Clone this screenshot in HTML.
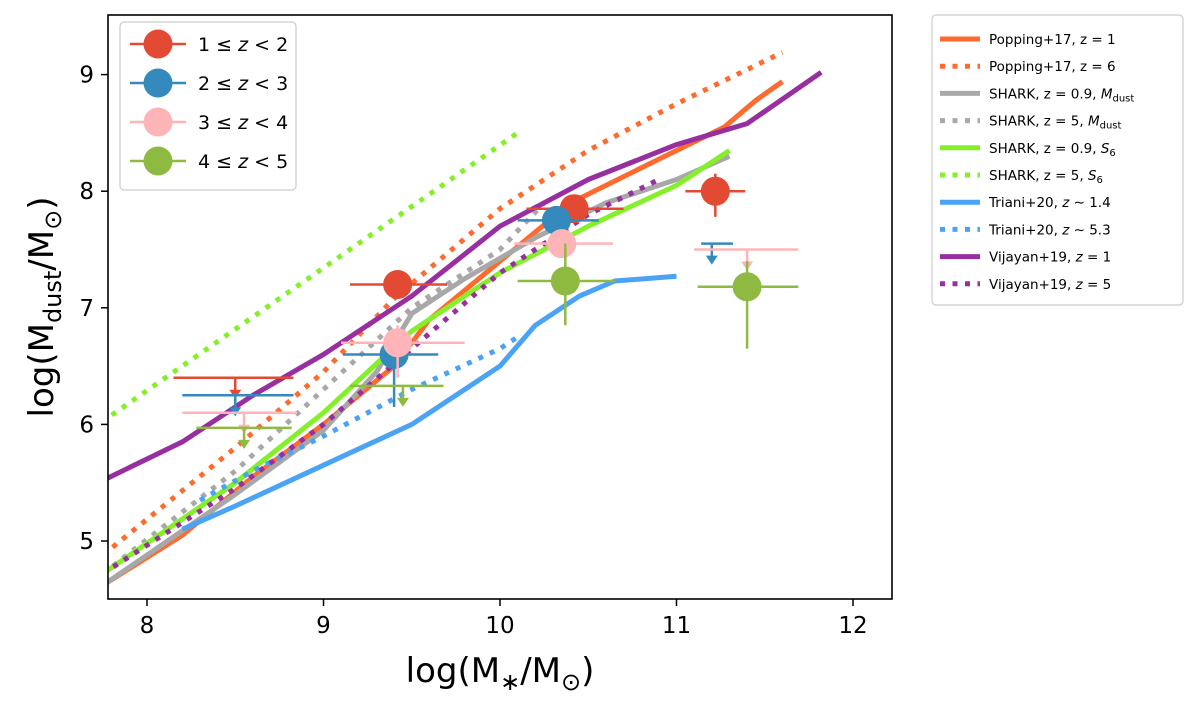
<!DOCTYPE html>
<html><head><meta charset="utf-8"><style>
body{margin:0;background:#fff;}
svg{display:block;font-family:"DejaVu Sans","Liberation Sans",sans-serif;}
</style></head><body>
<svg id="chart" width="1200" height="709" viewBox="0 0 1200 709">
<defs><clipPath id="clip"><rect x="108" y="15" width="784" height="584"/></clipPath></defs>
<g id="lines" clip-path="url(#clip)"></g>
<g id="points"></g>
<rect x="108" y="15" width="784" height="584" fill="none" stroke="#000" stroke-width="1.6"/>
<g id="axes"></g>
<text x="500" y="682" text-anchor="middle" font-size="34">log(M<tspan font-size="24" dy="8">∗</tspan><tspan dy="-8">/M</tspan><tspan font-size="24" dy="8">⊙</tspan><tspan dy="-8">)</tspan></text>
<text transform="translate(53,307) rotate(-90)" text-anchor="middle" font-size="34">log(M<tspan font-size="24" dy="8">dust</tspan><tspan dy="-8">/M</tspan><tspan font-size="24" dy="8">⊙</tspan><tspan dy="-8">)</tspan></text>
<g id="legend1"></g>
<g id="legend2"></g>
</svg>
<script>
const xTicks=[8,9,10,11,12];
const yTicks=[5,6,7,8,9];
const popping1X=[7.75,8.2,8.6,9.0,9.4,9.6,10.0,10.4,10.8,11.27,11.45,11.6];
const popping1Y=[4.62,5.05,5.55,6.0,6.5,6.9,7.4,7.9,8.2,8.55,8.78,8.94];
const popping6X=[7.75,8.5,9.0,9.4,10.0,10.5,11.0,11.6];
const popping6Y=[4.88,5.8,6.45,7.08,7.85,8.35,8.75,9.19];
const shark09X=[7.75,8.5,9.0,9.3,9.5,9.8,10.2,10.6,11.0,11.3];
const shark09Y=[4.62,5.4,5.95,6.45,6.95,7.25,7.6,7.9,8.1,8.3];
const shark5X=[7.75,8.5,9.0,9.5,10.0,10.25];
const shark5Y=[4.72,5.6,6.3,7.0,7.5,7.9];
const s6z09X=[7.75,8.5,9.0,9.5,10.0,10.5,11.0,11.3];
const s6z09Y=[4.72,5.5,6.1,6.8,7.3,7.7,8.05,8.35];
const s6z5X=[7.8,10.1];
const s6z5Y=[6.08,8.5];
const triani14X=[8.2,8.5,9.0,9.5,10.0,10.2,10.45,10.65,11.0];
const triani14Y=[5.1,5.3,5.65,6.0,6.5,6.85,7.1,7.23,7.27];
const triani53X=[8.3,8.6,9.0,9.5,10.0,10.1];
const triani53Y=[5.35,5.6,5.9,6.3,6.65,6.75];
const vij1X=[7.75,8.2,8.6,9.0,9.5,10.0,10.5,11.0,11.4,11.82];
const vij1Y=[5.52,5.85,6.25,6.6,7.1,7.7,8.1,8.4,8.58,9.02];
const vij5X=[7.75,8.5,9.0,9.5,10.0,10.5,10.9];
const vij5Y=[4.72,5.45,6.0,6.65,7.3,7.8,8.1];

const redX=[9.42,10.42,11.22,8.5];
const redY=[7.2,7.85,8.0,6.4];
const redXlo=[9.15,10.15,11.05,8.15];
const redXhi=[9.7,10.7,11.39,8.83];
const redYlo=[7.2,7.85,7.78,6.4];
const redYhi=[7.2,7.85,8.15,6.4];
const redUL=[0,0,0,1];
const blueX=[9.4,10.32,8.5,11.2];
const blueY=[6.6,7.75,6.25,7.55];
const blueXlo=[9.11,10.1,8.2,11.14];
const blueXhi=[9.65,10.56,8.83,11.32];
const blueYlo=[6.15,7.75,6.25,7.55];
const blueYhi=[6.6,7.75,6.25,7.55];
const blueUL=[0,0,1,1];
const pinkX=[9.42,10.35,8.55,11.4];
const pinkY=[6.7,7.55,6.1,7.5];
const pinkXlo=[9.1,10.08,8.2,11.1];
const pinkXhi=[9.8,10.64,8.85,11.69];
const pinkYlo=[6.4,7.55,6.1,7.5];
const pinkYhi=[6.85,7.55,6.1,7.5];
const pinkUL=[0,0,1,1];
const greenX=[9.45,8.55,10.37,11.4];
const greenY=[6.33,5.97,7.23,7.18];
const greenXlo=[9.15,8.28,10.1,11.12];
const greenXhi=[9.68,8.82,10.65,11.69];
const greenYlo=[6.33,5.97,6.85,6.65];
const greenYhi=[6.33,5.97,7.55,7.4];
const greenUL=[1,1,0,0];

const NS='http://www.w3.org/2000/svg';
const sx=v=>147+(v-8)*176.5;
const sy=v=>541-(v-5)*116.6;
function mk(tag,attrs,parent){const e=document.createElementNS(NS,tag);for(const k in attrs)e.setAttribute(k,attrs[k]);parent.appendChild(e);return e;}

const axes=document.getElementById('axes');
xTicks.forEach(t=>{
 const l=mk('line',{x1:sx(t),x2:sx(t),y1:599,y2:606,stroke:'#000','stroke-width':1.5},axes);
 
 
 const tx=mk('text',{x:sx(t),y:633,'text-anchor':'middle','font-size':23},axes);tx.textContent=t;
 
 
});
yTicks.forEach(t=>{
 const l=mk('line',{x1:101,x2:108,y1:sy(t),y2:sy(t),stroke:'#000','stroke-width':1.5},axes);
 
 
 const tx=mk('text',{x:94,y:sy(t)+8,'text-anchor':'end','font-size':23},axes);tx.textContent=t;
 
 
});

const C={pop:'#ff6a2e',gray:'#a8a8a8',lime:'#84f02a',tri:'#4aa3f5',vij:'#982fa0'};
const series=[
 [popping1X,popping1Y,C.pop,0,'popping-z1-line'],
 [popping6X,popping6Y,C.pop,1,'popping-z6-line'],
 [shark09X,shark09Y,C.gray,0,'shark-z09-mdust-line'],
 [shark5X,shark5Y,C.gray,1,'shark-z5-mdust-line'],
 [s6z09X,s6z09Y,C.lime,0,'shark-z09-s6-line'],
 [s6z5X,s6z5Y,C.lime,1,'shark-z5-s6-line'],
 [triani14X,triani14Y,C.tri,0,'triani-z14-line'],
 [triani53X,triani53Y,C.tri,1,'triani-z53-line'],
 [vij1X,vij1Y,C.vij,0,'vijayan-z1-line'],
 [vij5X,vij5Y,C.vij,1,'vijayan-z5-line']];
const lg=document.getElementById('lines');
series.forEach(s=>{
 const d=s[0].map((x,i)=>(i?'L':'M')+sx(x).toFixed(1)+','+sy(s[1][i]).toFixed(1)).join('');
 const p=mk('path',{d:d,fill:'none',stroke:s[2],'stroke-width':5,'stroke-linejoin':'round'},lg);
 if(s[3])p.setAttribute('stroke-dasharray','5,7.5');
 
 
});

const pg=document.getElementById('points');
function drawSet(X,Y,Xlo,Xhi,Ylo,Yhi,UL,col,name){
 X.forEach((x,i)=>{
  const g=mk('g',{},pg);
  
  
  const cx=sx(x),cy=sy(Y[i]);
  mk('line',{x1:sx(Xlo[i]),x2:sx(Xhi[i]),y1:cy,y2:cy,stroke:col,'stroke-width':2.5},g);
  if(UL[i]){
   mk('line',{x1:cx,x2:cx,y1:cy,y2:cy+14,stroke:col,'stroke-width':2.5},g);
   mk('path',{d:`M${cx-6},${cy+12}L${cx+6},${cy+12}L${cx},${cy+21}Z`,fill:col},g);
  }else{
   mk('line',{x1:cx,x2:cx,y1:sy(Ylo[i]),y2:sy(Yhi[i]),stroke:col,'stroke-width':2.5},g);
   mk('circle',{cx:cx,cy:cy,r:14.5,fill:col},g);
  }
 });
}
drawSet(redX,redY,redXlo,redXhi,redYlo,redYhi,redUL,'#e24a33','point-z1-2');
drawSet(blueX,blueY,blueXlo,blueXhi,blueYlo,blueYhi,blueUL,'#348abd','point-z2-3');
drawSet(pinkX,pinkY,pinkXlo,pinkXhi,pinkYlo,pinkYhi,pinkUL,'#ffb5b8','point-z3-4');
drawSet(greenX,greenY,greenXlo,greenXhi,greenYlo,greenYhi,greenUL,'#8eba42','point-z4-5');

const l1=document.getElementById('legend1');
mk('rect',{x:120,y:22,width:176,height:168,rx:4,fill:'#fff',stroke:'#ccc','stroke-width':1.2},l1);
const l1cols=['#e24a33','#348abd','#ffb5b8','#8eba42'];
const l1lab=[['1','2'],['2','3'],['3','4'],['4','5']];
l1cols.forEach((c,i)=>{
 const y=44+i*39;
 const g=mk('g',{},l1);
 
 
 mk('line',{x1:130,x2:186,y1:y,y2:y,stroke:c,'stroke-width':2.5},g);
 mk('circle',{cx:158,cy:y,r:14.5,fill:c},g);
 const t=mk('text',{x:198,y:y+7,'font-size':19},g);
 t.innerHTML=`${l1lab[i][0]} ≤ <tspan font-style="italic">z</tspan> &lt; ${l1lab[i][1]}`;
});
const l2=document.getElementById('legend2');
mk('rect',{x:932,y:15,width:251,height:290,rx:4,fill:'#fff',stroke:'#ccc','stroke-width':1.2},l2);
const l2lab=['Popping+17, z = 1','Popping+17, z = 6','SHARK, z = 0.9, <tspan font-style="italic">M</tspan><tspan font-size="10" dy="3">dust</tspan>','SHARK, z = 5, <tspan font-style="italic">M</tspan><tspan font-size="10" dy="3">dust</tspan>','SHARK, z = 0.9, <tspan font-style="italic">S</tspan><tspan font-size="10" dy="3">6</tspan>','SHARK, z = 5, <tspan font-style="italic">S</tspan><tspan font-size="10" dy="3">6</tspan>','Triani+20, <tspan font-style="italic">z</tspan> ∼ 1.4','Triani+20, <tspan font-style="italic">z</tspan> ∼ 5.3','Vijayan+19, <tspan font-style="italic">z</tspan> = 1','Vijayan+19, <tspan font-style="italic">z</tspan> = 5'];
series.forEach((s,i)=>{
 const y=39+i*27.2;
 const g=mk('g',{},l2);
 
 
 const l=mk('line',{x1:940,x2:980,y1:y,y2:y,stroke:s[2],'stroke-width':5},g);
 if(s[3])l.setAttribute('stroke-dasharray','5,7.5');
 const t=mk('text',{x:989,y:y+5,'font-size':13.5},g);
 t.innerHTML=l2lab[i];
});
</script>
</body></html>
